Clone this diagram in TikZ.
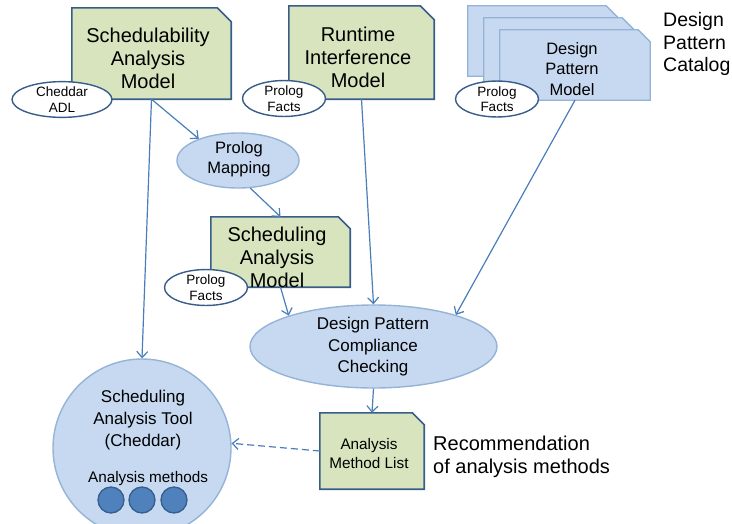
\documentclass[tikz,border=0pt]{standalone}
\usepackage{fontspec}
\setmainfont{Liberation Sans}
\usetikzlibrary{arrows.meta,shapes.geometric}

\definecolor{notegreen}{HTML}{D7E4BD}
\definecolor{darkedge}{HTML}{385D8A}
\definecolor{paleblue}{HTML}{C6D9F1}
\definecolor{softedge}{HTML}{95B3D7}
\definecolor{linkblue}{HTML}{4A7EBB}
\definecolor{dotblue}{HTML}{4F81BD}

% outline of a note with its top-right corner cut off, drawn round a frame node
\newcommand\cutcorner[3]{%
  \draw[#2] (#1.north west) -- ([xshift=-#3]#1.north east) -- ([yshift=-#3]#1.north east)
    -- (#1.south east) -- (#1.south west) -- cycle;}

\begin{document}
\begin{tikzpicture}[x=1pt,y=-1pt,
  frame/.style={rectangle, draw=none, inner sep=0pt},
  greennote/.style={fill=notegreen, draw=darkedge, line width=1.6pt, line join=miter},
  bluenote/.style={fill=paleblue, draw=softedge, line width=1.3pt, line join=miter},
  tag/.style={ellipse, draw=darkedge, fill=white, line width=1.4pt, inner sep=0pt,
    align=center, font=\fontsize{13.5}{15.5}\selectfont},
  bubble/.style={ellipse, draw=softedge, fill=paleblue, line width=1.4pt, inner sep=0pt, align=center},
  link/.style={draw=linkblue, line width=1.2pt, -{Straight Barb[length=6pt,width=11pt]}},
  label/.style={align=center, inner sep=0pt},
  bigtext/.style={label, font=\fontsize{20}{23}\selectfont}]

\useasboundingbox (0,0) rectangle (732,523);
\clip (0,0) rectangle (732,523);

% ---- models on the top row ----
\node[frame, minimum width=159pt, minimum height=91pt] (sam) at (151.5,53.5) {};
\cutcorner{sam}{greennote}{14pt}
\node[bigtext] (samtext) at (148,58) {Schedulability\\Analysis\\Model};
\node[tag, minimum width=100pt, minimum height=31pt] (cheddar) at (62,99.5) {Cheddar\\ADL};

\node[frame, minimum width=145pt, minimum height=93pt] (rim) at (361.5,52.5) {};
\cutcorner{rim}{greennote}{14pt}
\node[bigtext] (rimtext) at (358,57) {Runtime\\Interference\\Model};
\node[tag, minimum width=83pt, minimum height=33pt] (rimfacts) at (284,98.5) {Prolog\\Facts};

% stack of design pattern models
\node[frame, minimum width=150pt, minimum height=70pt] (dpa) at (543,41) {};
\cutcorner{dpa}{bluenote}{12pt}
\node[frame, minimum width=150pt, minimum height=70pt] (dpb) at (559,53) {};
\cutcorner{dpb}{bluenote}{12pt}
\node[frame, minimum width=150pt, minimum height=70pt] (dpf) at (575,65) {};
\cutcorner{dpf}{bluenote}{12pt}
\node[label, font=\fontsize{16.5}{20.5}\selectfont] (dptext) at (572,69) {Design\\Pattern\\Model};
\node[tag, minimum width=83pt, minimum height=32pt] (dpfacts) at (497,99) {Prolog\\Facts};
\node[label, align=left, anchor=west, font=\fontsize{19.5}{22.5}\selectfont] (catalog) at (663,44)
  {Design\\Pattern\\Catalog};

% ---- mapping and derived model ----
\node[bubble, minimum width=122pt, minimum height=55pt] (pm) at (238,160.5) {};
\node[label, font=\fontsize{16.5}{20}\selectfont] (pmtext) at (239,159) {Prolog\\Mapping};

\node[frame, minimum width=139pt, minimum height=70pt] (scm) at (280.5,252) {};
\cutcorner{scm}{greennote}{12pt}
\node[bigtext] (scmtext) at (277,257) {Scheduling\\Analysis\\Model};
\node[tag, minimum width=83pt, minimum height=35pt] (scmfacts) at (206,287.5) {Prolog\\Facts};

% ---- compliance checking ----
\node[bubble, minimum width=247pt, minimum height=83pt] (dpcc) at (373.5,346.5) {};
\node[label, font=\fontsize{17}{21.5}\selectfont] (dpcctext) at (373,347)
  {Design Pattern\\Compliance\\Checking};

% ---- analysis tool ----
\node[circle, draw=softedge, fill=paleblue, line width=1.4pt, minimum size=178pt, inner sep=0pt]
  (tool) at (142,448) {};
\node[label, font=\fontsize{17}{21.7}\selectfont] (tooltext) at (143,420)
  {Scheduling\\Analysis Tool\\(Cheddar)};
\node[label, font=\fontsize{15.3}{18}\selectfont] (methods) at (148,479) {Analysis methods};
\foreach \i/\x in {1/111,2/142,3/174}
  \node[circle, draw=darkedge, fill=dotblue, line width=1.3pt, minimum size=26pt, inner sep=0pt]
    (m\i) at (\x,500) {};

% ---- recommendation ----
\node[frame, minimum width=104pt, minimum height=76pt] (aml) at (372,451) {};
\cutcorner{aml}{greennote}{12pt}
\node[label, font=\fontsize{15.3}{19}\selectfont] (amltext) at (369,454) {Analysis\\Method List};
\node[label, align=left, anchor=west, font=\fontsize{20}{23}\selectfont] (recommend) at (433,457)
  {Recommendation\\of analysis methods};

% ---- connectors ----
\draw[link] (sam.south) -- (pm.151);
\draw[link] (sam.south) -- (tool.north);
\draw[link] (pm.-66) -- (scm.north);
\draw[link] (scm.south) -- (dpcc.160);
\draw[link] (rim.south) -- (dpcc.north);
\draw[link] (dpf.south) -- (dpcc.21);
\draw[link] (dpcc.south) -- (aml.north);
\draw[link, dash pattern=on 7pt off 4pt] (aml.west) -- (tool.3);

\end{tikzpicture}
\end{document}
